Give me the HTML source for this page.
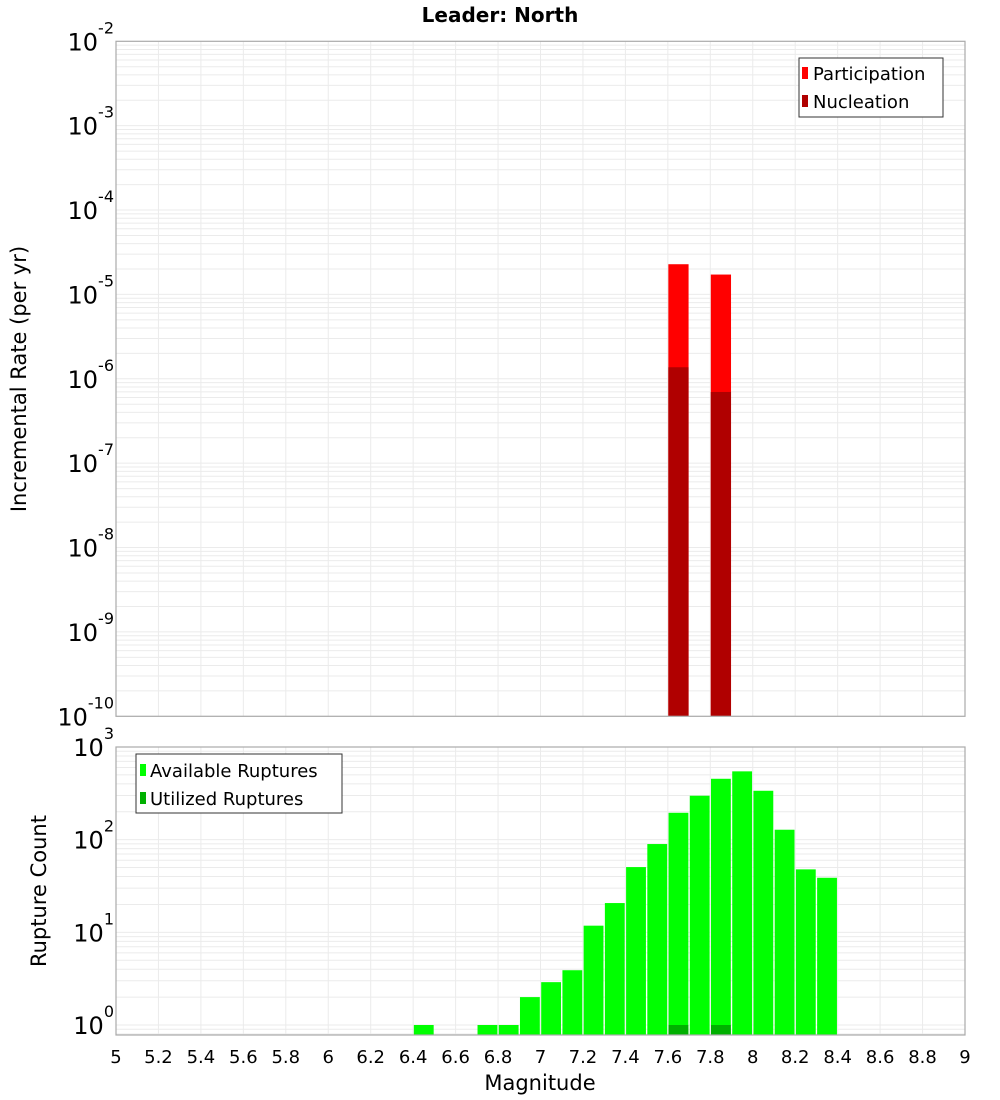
<!DOCTYPE html>
<html><head><meta charset="utf-8"><style>
body{margin:0;background:#fff}
svg{display:block;font-family:"DejaVu Sans","Liberation Sans",sans-serif}
</style></head><body>
<svg id="chart" width="1000" height="1100"></svg>
<script>
const magBins=[5.05,5.15,5.25,5.35,5.45,5.55,5.65,5.75,5.85,5.95,6.05,6.15,6.25,6.35,6.45,6.55,6.65,6.75,6.85,6.95,7.05,7.15,7.25,7.35,7.45,7.55,7.65,7.75,7.85,7.95,8.05,8.15,8.25,8.35];
const participation=[0,0,0,0,0,0,0,0,0,0,0,0,0,0,0,0,0,0,0,0,0,0,0,0,0,0,2.28e-5,0,1.72e-5,0,0,0,0,0];
const nucleation=[0,0,0,0,0,0,0,0,0,0,0,0,0,0,0,0,0,0,0,0,0,0,0,0,0,0,1.37e-6,0,6.98e-7,0,0,0,0,0];
const available=[0,0,0,0,0,0,0,0,0,0,0,0,0,0,1,0,0,1,1,2,2.9,3.9,11.8,20.7,50.6,89.7,195,298,454,546,337,128,47.8,38.8];
const utilized=[0,0,0,0,0,0,0,0,0,0,0,0,0,0,0,0,0,0,0,0,0,0,0,0,0,0,1,0,1,0,0,0,0,0];
const xTicks=[5,5.2,5.4,5.6,5.8,6,6.2,6.4,6.6,6.8,7,7.2,7.4,7.6,7.8,8,8.2,8.4,8.6,8.8,9];
const topExps=[-2,-3,-4,-5,-6,-7,-8,-9,-10];
const botExps=[3,2,1,0];

const NS='http://www.w3.org/2000/svg';
const svg=document.getElementById('chart');
function mk(tag,attrs,parent){const e=document.createElementNS(NS,tag);for(const k in attrs)e.setAttribute(k,attrs[k]);(parent||svg).appendChild(e);return e;}
const L=116,R=965;
const x=m=>L+(m-5)/4*(R-L);
const T1=41.3,B1=716.3;
const yTop=v=>T1+(-2-Math.log10(v))*(B1-T1)/8;
const T2=747,Z2=1025,B2=1035;
const yBot=v=>Z2-Math.log10(v)*(Z2-T2)/3;

function grid(top,bot,yf,expLo,expHi,name){
  const g=mk('g',{});
  
  
  for(let e=expLo;e<expHi;e++)for(let k=1;k<10;k++){
    const yy=yf(k*Math.pow(10,e));if(yy<top-0.5||yy>bot+0.5)continue;
    mk('line',{x1:L,x2:R,y1:yy,y2:yy,stroke:'#ebebeb','stroke-width':1},g);
  }
  for(let m=5.2;m<9;m+=0.2){const xx=x(m);mk('line',{x1:xx,x2:xx,y1:top,y2:bot,stroke:'#ebebeb','stroke-width':1},g);}
}
grid(T1,B1,yTop,-10,-2,'top-grid');
grid(T2,B2,yBot,-1,3,'bottom-grid');

const bw=(R-L)/40;
magBins.forEach((m,i)=>{
  if(participation[i]>0){const r=mk('rect',{x:x(m)-bw/2+0.5,y:yTop(participation[i]),width:bw-1,height:B1-yTop(participation[i]),fill:'#ff0000'});
    }
  if(nucleation[i]>0){const r=mk('rect',{x:x(m)-bw/2+0.5,y:yTop(nucleation[i]),width:bw-1,height:B1-yTop(nucleation[i]),fill:'#b00000'});
    }
});
magBins.forEach((m,i)=>{
  if(available[i]>0){const r=mk('rect',{x:x(m)-bw/2+0.7,y:yBot(available[i]),width:bw-1.4,height:B2-yBot(available[i]),fill:'#00ff00'});
    }
  if(utilized[i]>0){const r=mk('rect',{x:x(m)-bw/2+0.7,y:yBot(utilized[i]),width:bw-1.4,height:B2-yBot(utilized[i]),fill:'#00b000'});
    }
});
let f=mk('rect',{x:L,y:T1,width:R-L,height:B1-T1,fill:'none',stroke:'#aaa','stroke-width':1.2});

f=mk('rect',{x:L,y:T2,width:R-L,height:B2-T2,fill:'none',stroke:'#aaa','stroke-width':1.2});


function ylab(yy,e,name){
  const t=mk('text',{x:114,y:yy+9,'text-anchor':'end','font-size':24,fill:'#000'});
  
  const a=mk('tspan',{},t);a.textContent='10';
  const b=mk('tspan',{dy:-17,'font-size':16},t);b.textContent=String(e);
}
topExps.forEach(e=>ylab(yTop(Math.pow(10,e)),e,'top-y-tick-label'));
botExps.forEach(e=>ylab(yBot(Math.pow(10,e)),e,'bottom-y-tick-label'));
xTicks.forEach(m=>{
  const t=mk('text',{x:x(m),y:1063,'text-anchor':'middle','font-size':18,fill:'#000'});
  
  t.textContent=String(m);
});
</script>
<div style="position:absolute;left:0;top:0;width:1000px;height:1100px;pointer-events:none">
<svg width="1000" height="1100" style="font-family:'DejaVu Sans','Liberation Sans',sans-serif">
<text x="500" y="22" text-anchor="middle" font-size="20" font-weight="bold">Leader: North</text>
<text transform="translate(26,379) rotate(-90)" text-anchor="middle" font-size="21">Incremental Rate (per yr)</text>
<text transform="translate(46,891) rotate(-90)" text-anchor="middle" font-size="21">Rupture Count</text>
<text x="540" y="1090" text-anchor="middle" font-size="21">Magnitude</text>
<g>
<rect x="799" y="58" width="144" height="59" fill="#fff" stroke="#333" stroke-width="1"/>
<rect x="802" y="67" width="6" height="12" fill="#ff0000"/>
<text x="813" y="80" font-size="18">Participation</text>
<rect x="802" y="95" width="6" height="12" fill="#b00000"/>
<text x="813" y="108" font-size="18">Nucleation</text>
</g>
<g>
<rect x="136" y="754" width="206" height="59" fill="#fff" stroke="#333" stroke-width="1"/>
<rect x="140" y="764" width="6" height="12" fill="#00ff00"/>
<text x="150" y="777" font-size="18">Available Ruptures</text>
<rect x="140" y="792" width="6" height="12" fill="#00b000"/>
<text x="150" y="805" font-size="18">Utilized Ruptures</text>
</g>
</svg></div>
</body></html>
